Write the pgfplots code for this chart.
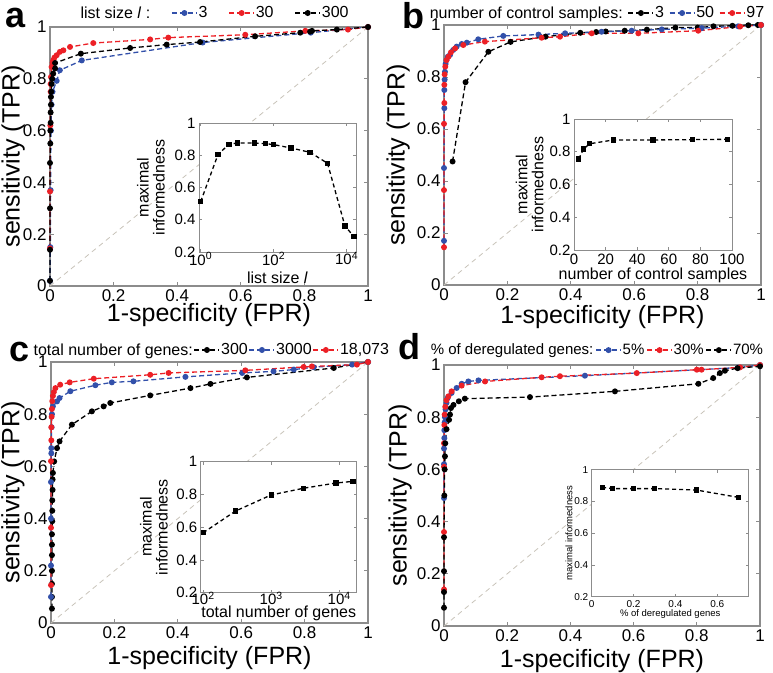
\documentclass[border=0pt]{standalone}
\usepackage{fontspec}
\setmainfont{Liberation Sans}
\usepackage{pgfplots}
\pgfplotsset{compat=1.18}
\definecolor{cblue}{RGB}{50,80,170}
\definecolor{cred}{RGB}{236,32,38}
\definecolor{cdiag}{RGB}{200,195,185}
\definecolor{caxis}{RGB}{140,140,140}
\pgfplotsset{
  mainax/.style={
    scale only axis, anchor=south west,
    xmin=0,xmax=1,ymin=0,ymax=1,
    xtick={0,0.2,0.4,0.6,0.8,1}, ytick={0,0.2,0.4,0.6,0.8,1},
    axis line style={caxis,line width=1.1pt},
    major tick style={caxis,line width=0.8pt},
    major tick length=4pt, tick align=inside,
    tick label style={font=\fontsize{17}{17}\selectfont},
    /pgf/number format/assume math mode=true,
    label style={font=\fontsize{25}{25}\selectfont},
    xlabel={1-specificity (FPR)}, ylabel={sensitivity (TPR)},
    clip=false,
    legend columns=-1,
    legend style={draw=none, fill=none, font=\fontsize{16}{16}\selectfont, anchor=west,
      inner sep=0pt, outer sep=0pt, nodes={inner sep=1pt},
      /tikz/every odd column/.append style={column sep=0pt}},
    legend image code/.code={\draw[mark repeat=2,mark phase=2,##1] plot coordinates {(0pt,0pt) (12.5pt,0pt) (25pt,0pt)};},
  },
  insetax/.style={
    scale only axis, anchor=south west,
    ymin=0.2,ymax=1, ytick={0.2,0.4,0.6,0.8,1},
    axis background/.style={fill=white},
    axis line style={caxis,line width=0.9pt},
    major tick style={caxis,line width=0.7pt},
    major tick length=3pt, tick align=inside,
    tick label style={font=\fontsize{15}{15}\selectfont},
    /pgf/number format/assume math mode=true,
    label style={font=\fontsize{16}{16}\selectfont},
    ylabel={maximal\\informedness}, ylabel style={align=center},
  },
  ser/.style={color=#1, line width=1.3pt, dash pattern=on 5pt off 3pt, mark=*, mark size=2.3pt, mark options={solid, fill=#1}},
  iser/.style={black, line width=1.3pt, dash pattern=on 4pt off 3pt, mark=square*, mark size=2pt, mark options={solid, fill=black}},
  diag/.style={cdiag, line width=0.8pt, dash pattern=on 5pt off 4pt, forget plot},
}
\begin{document}
\begin{tikzpicture}
\path[use as bounding box] (0,0) rectangle (773pt,672pt);
% ---------------- panel a
\begin{axis}[mainax, at={(50pt,386pt)}, width=318pt, height=259pt,
  xlabel style={at={(axis description cs:0.5,-0.112)}, anchor=center},
  ylabel style={at={(axis description cs:-0.116,0.5)}, anchor=center},
  legend style={at={(0.093,1.054)}, /tikz/every even column/.append style={column sep=20pt}}]
\addplot[diag] coordinates {(0,0) (1,1)};
\addlegendimage{empty legend}\addlegendentry{list size \textit{l} :}
\addplot[ser=cblue] coordinates {(0,0.02) (0.001,0.15) (0.002,0.37) (0.003,0.6) (0.005,0.7) (0.008,0.75) (0.021,0.792) (0.031,0.833) (0.1,0.871) (0.48,0.94) (0.82,0.978) (1,1)};
\addlegendentry{3}
\addplot[ser=cred] coordinates {(0,0.145) (0,0.365) (0.001,0.62) (0.002,0.75) (0.002,0.78) (0.003,0.807) (0.005,0.846) (0.008,0.862) (0.01,0.871) (0.014,0.882) (0.021,0.891) (0.031,0.904) (0.042,0.91) (0.063,0.923) (0.136,0.938) (0.315,0.952) (0.372,0.959) (0.614,0.97) (0.803,0.985) (0.937,0.99) (1,1)};
\addlegendentry{30}
\addplot[ser=black] coordinates {(0,0.02) (0,0.14) (0,0.30) (0,0.475) (0.001,0.55) (0.001,0.6) (0.002,0.63) (0.002,0.67) (0.003,0.70) (0.003,0.73) (0.004,0.75) (0.005,0.78) (0.007,0.80) (0.01,0.82) (0.016,0.84) (0.016,0.861) (0.097,0.897) (0.252,0.919) (0.367,0.932) (0.472,0.942) (0.645,0.964) (0.787,0.978) (0.818,0.982) (0.824,0.985) (0.902,0.99) (1,1)};
\addlegendentry{300}
\end{axis}
\begin{axis}[insetax, at={(199pt,420pt)}, width=157pt, height=129pt,
  xmode=log, xmin=0.9, xmax=18073, xtick={1,100,10000}, xminorticks=false,
  xticklabels={10\textsuperscript{0},10\textsuperscript{2},10\textsuperscript{4}},
  xticklabel style={yshift=3pt},
  xlabel={list size \textit{l}},
  xlabel style={at={(axis description cs:0.5,-0.2)}, anchor=center},
  ylabel style={at={(axis description cs:-0.306,0.5)}, anchor=center}]
\addplot[iser] coordinates {(1,0.512) (3,0.806) (6,0.868) (10,0.876) (30,0.876) (60,0.872) (100,0.866) (300,0.845) (1000,0.818) (3000,0.75) (9000,0.361) (16000,0.295)};
\end{axis}
% ---------------- panel b
\begin{axis}[mainax, at={(444pt,387pt)}, width=317pt, height=260pt,
  xlabel style={at={(axis description cs:0.5,-0.123)}, anchor=center},
  ylabel style={at={(axis description cs:-0.145,0.5)}, anchor=center},
  legend style={at={(-0.048,1.046)}, /tikz/every even column/.append style={column sep=4pt}}]
\addplot[diag] coordinates {(0,0) (1,1)};
\addlegendimage{empty legend}\addlegendentry{number of control samples:}
\addplot[ser=black] coordinates {(0.027,0.475) (0.068,0.78) (0.14,0.897) (0.21,0.935) (0.32,0.955) (0.43,0.97) (0.48,0.973) (0.51,0.975) (0.57,0.978) (0.64,0.982) (0.73,0.99) (0.80,0.99) (0.85,0.995) (0.91,0.997) (0.96,0.999) (0.99,1) (1,1)};
\addlegendentry{3}
\addplot[ser=cblue] coordinates {(0,0.17) (0,0.45) (0.001,0.68) (0.001,0.75) (0.002,0.79) (0.003,0.82) (0.005,0.85) (0.008,0.865) (0.012,0.878) (0.019,0.885) (0.029,0.904) (0.04,0.917) (0.056,0.927) (0.072,0.932) (0.108,0.945) (0.187,0.958) (0.298,0.963) (0.382,0.968) (0.497,0.974) (0.592,0.978) (0.687,0.983) (0.813,0.988) (0.928,0.995) (1,1)};
\addlegendentry{50}
\addplot[ser=cred] coordinates {(0,0.145) (0,0.365) (0,0.62) (0.001,0.70) (0.001,0.77) (0.002,0.81) (0.004,0.84) (0.008,0.865) (0.014,0.878) (0.022,0.895) (0.035,0.91) (0.061,0.923) (0.129,0.936) (0.308,0.951) (0.366,0.955) (0.466,0.968) (0.613,0.968) (0.802,0.978) (0.934,0.994) (1,1)};
\addlegendentry{97}
\end{axis}
\begin{axis}[insetax, at={(574pt,422pt)}, width=158pt, height=131pt,
  xmin=0, xmax=100, xtick={0,20,40,60,80,100},
  xlabel={number of control samples},
  xlabel style={at={(axis description cs:0.5,-0.19)}, anchor=center},
  ylabel style={at={(axis description cs:-0.28,0.5)}, anchor=center}]
\addplot[iser] coordinates {(3,0.756) (6,0.817) (10,0.849) (25,0.872) (50,0.872) (75,0.874) (97,0.876)};
\end{axis}
% ---------------- panel c
\begin{axis}[mainax, at={(51pt,49pt)}, width=317pt, height=261pt,
  xlabel style={at={(axis description cs:0.5,-0.136)}, anchor=center},
  ylabel style={at={(axis description cs:-0.12,0.5)}, anchor=center},
  legend style={at={(-0.058,1.046)}, /tikz/every even column/.append style={column sep=0pt}}]
\addplot[diag] coordinates {(0,0) (1,1)};
\addlegendimage{empty legend}\addlegendentry{total number of genes:}
\addplot[ser=black] coordinates {(0.003,0.055) (0.003,0.10) (0.003,0.15) (0.003,0.20) (0.003,0.26) (0.003,0.30) (0.003,0.34) (0.004,0.39) (0.004,0.43) (0.004,0.47) (0.005,0.51) (0.005,0.55) (0.006,0.575) (0.01,0.619) (0.019,0.67) (0.027,0.696) (0.066,0.76) (0.129,0.811) (0.166,0.83) (0.187,0.843) (0.313,0.872) (0.44,0.9) (0.503,0.916) (0.618,0.941) (0.892,0.977) (1,1)};
\addlegendentry{300}
\addplot[ser=cblue] coordinates {(0,0.10) (0,0.22) (0,0.40) (0,0.54) (0.001,0.65) (0.001,0.67) (0.002,0.75) (0.003,0.80) (0.006,0.83) (0.019,0.849) (0.027,0.862) (0.061,0.888) (0.14,0.911) (0.192,0.922) (0.26,0.926) (0.424,0.943) (0.603,0.958) (0.702,0.964) (0.766,0.971) (0.829,0.98) (0.95,0.99) (1,1)};
\addlegendentry{3000}
\addplot[ser=cred] coordinates {(0,0.145) (0,0.365) (0,0.62) (0.001,0.70) (0.001,0.75) (0.002,0.79) (0.003,0.82) (0.004,0.85) (0.006,0.87) (0.009,0.885) (0.014,0.9) (0.029,0.913) (0.059,0.922) (0.135,0.936) (0.313,0.951) (0.371,0.958) (0.613,0.968) (0.797,0.981) (0.823,0.983) (0.965,0.99) (1,1)};
\addlegendentry{18,073}
\end{axis}
\begin{axis}[insetax, at={(200.7pt,79.3pt)}, width=156pt, height=131pt,
  xmode=log, xmin=92, xmax=18073, xtick={100,1000,10000}, xminorticks=false,
  xticklabels={10\textsuperscript{2},10\textsuperscript{3},10\textsuperscript{4}},
  xticklabel style={yshift=4pt},
  xlabel={total number of genes},
  xlabel style={at={(axis description cs:0.5,-0.16)}, anchor=center},
  ylabel style={at={(axis description cs:-0.30,0.5)}, anchor=center}]
\addplot[iser] coordinates {(100,0.566) (300,0.699) (1000,0.797) (3000,0.838) (9000,0.870) (16000,0.880)};
\end{axis}
% ---------------- panel d
\begin{axis}[mainax, at={(444pt,46pt)}, width=316pt, height=261pt,
  xlabel style={at={(axis description cs:0.5,-0.134)}, anchor=center},
  ylabel style={at={(axis description cs:-0.139,0.5)}, anchor=center},
  legend style={at={(-0.045,1.057)}, font=\fontsize{15}{15}\selectfont, /tikz/every even column/.append style={column sep=1pt}}]
\addplot[diag] coordinates {(0,0) (1,1)};
\addlegendimage{empty legend}\addlegendentry{\% of deregulated genes:}
\addplot[ser=cblue] coordinates {(0,0.49) (0,0.62) (0,0.68) (0.001,0.72) (0.001,0.75) (0.002,0.78) (0.003,0.80) (0.005,0.83) (0.008,0.855) (0.012,0.875) (0.024,0.893) (0.04,0.912) (0.056,0.928) (0.077,0.937) (0.109,0.941) (0.446,0.959) (0.931,0.99) (1,1)};
\addlegendentry{5\%}
\addplot[ser=cred] coordinates {(0,0.14) (0,0.36) (0,0.61) (0,0.70) (0.001,0.77) (0.002,0.81) (0.004,0.84) (0.008,0.865) (0.014,0.88) (0.024,0.899) (0.056,0.921) (0.13,0.937) (0.309,0.953) (0.367,0.957) (0.61,0.969) (0.8,0.982) (0.815,0.982) (0.937,0.991) (1,1)};
\addlegendentry{30\%}
\addplot[ser=black] coordinates {(0,0.07) (0,0.13) (0,0.21) (0,0.34) (0.001,0.50) (0.002,0.60) (0.003,0.65) (0.004,0.70) (0.008,0.754) (0.016,0.79) (0.019,0.81) (0.022,0.835) (0.03,0.847) (0.047,0.861) (0.066,0.871) (0.272,0.877) (0.541,0.899) (0.805,0.928) (0.852,0.95) (0.873,0.969) (0.889,0.978) (0.929,0.988) (1,0.995)};
\addlegendentry{70\%}
\end{axis}
\begin{axis}[insetax, at={(591.7pt,75.3pt)}, width=157pt, height=127pt,
  xmin=0, xmax=0.75, xtick={0,0.2,0.4,0.6},
  tick label style={font=\fontsize{10}{10}\selectfont},
  label style={font=\fontsize{9.5}{9.5}\selectfont},
  ylabel={maximal informedness},
  xlabel={\% of deregulated genes},
  xlabel style={at={(axis description cs:0.5,-0.136)}, anchor=center},
  ylabel style={at={(axis description cs:-0.145,0.5)}, anchor=center}]
\addplot[iser] coordinates {(0.05,0.889) (0.1,0.881) (0.2,0.881) (0.3,0.881) (0.5,0.872) (0.7,0.826)};
\end{axis}
% panel letters
\node[font=\fontsize{36}{36}\bfseries\selectfont] at (16pt,654pt) {a};
\node[font=\fontsize{36}{36}\bfseries\selectfont] at (413pt,656pt) {b};
\node[font=\fontsize{36}{36}\bfseries\selectfont] at (19.5pt,320pt) {c};
\node[font=\fontsize{36}{36}\bfseries\selectfont] at (409pt,325pt) {d};
\end{tikzpicture}
\end{document}
